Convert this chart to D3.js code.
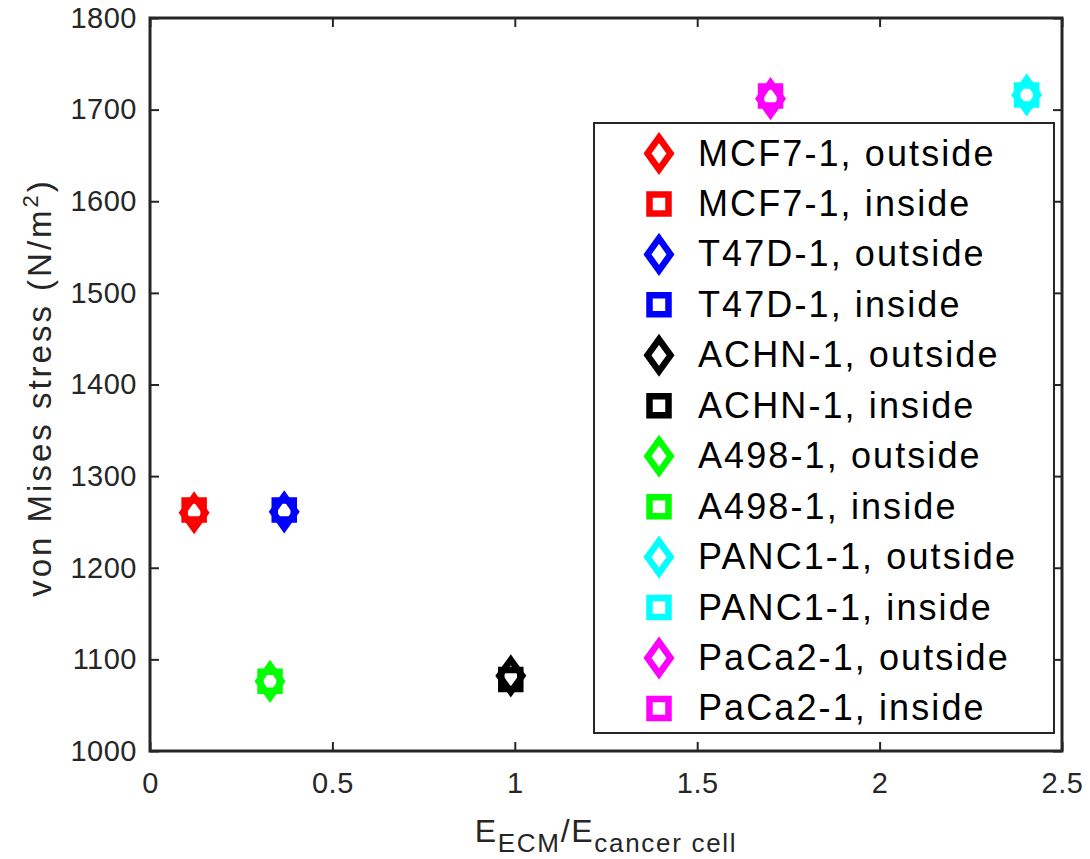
<!DOCTYPE html>
<html>
<head>
<meta charset="utf-8">
<script src="https://cdn.jsdelivr.net/npm/d3@7"></script>
<style>
  body { margin: 0; background: #fff; }
  svg { display: block; }
  text { font-family: "Liberation Sans", Arial, Helvetica, sans-serif; }
</style>
</head>
<body>
<svg id="chart" width="1090" height="859"></svg>
<script>
// ---- data ----
const cellLines = ["MCF7-1", "T47D-1", "ACHN-1", "A498-1", "PANC1-1", "PaCa2-1"];
const stiffnessRatio = [0.121, 0.368, 0.989, 0.329, 2.403, 1.701];
const outsideStress = [1260, 1261, 1082, 1076, 1716, 1712];
const insideStress  = [1263, 1263, 1078, 1076, 1716, 1715];
const seriesColors = ["#ff0000", "#0000ff", "#000000", "#00ff00", "#00ffff", "#ff00ff"];
const xTicks = [0, 0.5, 1, 1.5, 2, 2.5];
const yTicks = [1000, 1100, 1200, 1300, 1400, 1500, 1600, 1700, 1800];

// ---- layout ----
const svg = d3.select("#chart");
const L = 150, R = 1062, T = 18, B = 751;
const x = d3.scaleLinear().domain([0, 2.5]).range([L, R]);
const y = d3.scaleLinear().domain([1000, 1800]).range([B, T]);
const axisColor = "#262626";

svg.append("rect").attr("width", 1090).attr("height", 859).attr("fill", "#fff");

function styleAxis(g, showLabels) {
  g.select(".domain").remove();
  g.selectAll(".tick line").attr("stroke", axisColor).attr("stroke-width", 2);
  g.selectAll(".tick text")
    .attr("fill", axisColor)
    .style("font-size", "29px")
    .style("letter-spacing", "0.5px")
    .style("font-family", "'Liberation Sans', Arial, Helvetica, sans-serif");
  if (!showLabels) g.selectAll(".tick text").remove();
}

const tickLen = 9;
svg.append("g").attr("transform", `translate(0,${B})`)
  .call(d3.axisBottom(x).tickValues(xTicks).tickFormat(d3.format("")).tickSizeInner(-tickLen).tickSizeOuter(0).tickPadding(21))
  .call(g => styleAxis(g, true));
svg.append("g").attr("transform", `translate(0,${T})`)
  .call(d3.axisTop(x).tickValues(xTicks).tickSizeInner(-tickLen).tickSizeOuter(0))
  .call(g => styleAxis(g, false));
svg.append("g").attr("transform", `translate(${L},0)`)
  .call(d3.axisLeft(y).tickValues(yTicks).tickFormat(d3.format("")).tickSizeInner(-tickLen).tickSizeOuter(0).tickPadding(13))
  .call(g => styleAxis(g, true));
svg.append("g").attr("transform", `translate(${R},0)`)
  .call(d3.axisRight(y).tickValues(yTicks).tickSizeInner(-tickLen).tickSizeOuter(0))
  .call(g => styleAxis(g, false));

// box
svg.append("rect").attr("x", L).attr("y", T).attr("width", R - L).attr("height", B - T)
  .attr("fill", "none").attr("stroke", axisColor).attr("stroke-width", 3);

// ---- markers ----
const dA = 11.5, dB = 16, sH = 9.5, mw = 6.5;
function diamondPath(cx, cy) {
  return `M${cx},${cy - dB}L${cx + dA},${cy}L${cx},${cy + dB}L${cx - dA},${cy}Z`;
}
function squarePath(cx, cy) {
  return `M${cx - sH},${cy - sH}H${cx + sH}V${cy + sH}H${cx - sH}Z`;
}

const plotData = cellLines.map((c, i) => ({ name: c, x: stiffnessRatio[i], out: outsideStress[i], ins: insideStress[i], color: seriesColors[i] }));
const marks = svg.append("g");
plotData.forEach(d => {
  marks.append("path").attr("d", diamondPath(x(d.x), y(d.out)))
    .attr("fill", "none").attr("stroke", d.color).attr("stroke-width", mw).attr("stroke-linejoin", "miter");
  marks.append("path").attr("d", squarePath(x(d.x), y(d.ins)))
    .attr("fill", "none").attr("stroke", d.color).attr("stroke-width", mw).attr("stroke-linejoin", "miter");
});

// ---- legend ----
const lg = svg.append("g");
const lgX = 594, lgY = 123, lgW = 460, lgH = 610;
lg.append("rect").attr("x", lgX).attr("y", lgY).attr("width", lgW).attr("height", lgH)
  .attr("fill", "#fff").attr("stroke", axisColor).attr("stroke-width", 2);
const rowStart = 153.5, rowStep = 50.45;
const entries = [];
plotData.forEach(d => {
  entries.push({ label: d.name + ", outside", color: d.color, shape: "diamond" });
  entries.push({ label: d.name + ", inside", color: d.color, shape: "square" });
});
entries.forEach((e, i) => {
  const cy = rowStart + i * rowStep, cx = 659;
  lg.append("path").attr("d", e.shape === "diamond" ? diamondPath(cx, cy) : squarePath(cx, cy))
    .attr("fill", "none").attr("stroke", e.color).attr("stroke-width", mw).attr("stroke-linejoin", "miter");
  lg.append("text").attr("x", 698).attr("y", cy + 12)
    .style("font-size", "36px").style("letter-spacing", "2.1px").attr("fill", "#000").text(e.label);
});

// ---- axis titles ----
const xt = svg.append("text").attr("x", (L + R) / 2).attr("y", 842).attr("text-anchor", "middle")
  .attr("fill", axisColor).style("font-size", "32px").style("letter-spacing", "1.7px");
xt.append("tspan").text("E");
xt.append("tspan").attr("dy", 10).style("font-size", "26px").text("ECM");
xt.append("tspan").attr("dy", -10).text("/E");
xt.append("tspan").attr("dy", 10).style("font-size", "26px").text("cancer cell");

const yt = svg.append("text").attr("transform", `translate(51,${(T + B) / 2 + 3}) rotate(-90)`)
  .attr("text-anchor", "middle").attr("fill", axisColor).style("font-size", "33px").style("letter-spacing", "3px");
yt.append("tspan").text("von Mises stress (N/m");
yt.append("tspan").attr("dy", -13).style("font-size", "22px").text("2");
yt.append("tspan").attr("dy", 13).text(")");
</script>
</body>
</html>
